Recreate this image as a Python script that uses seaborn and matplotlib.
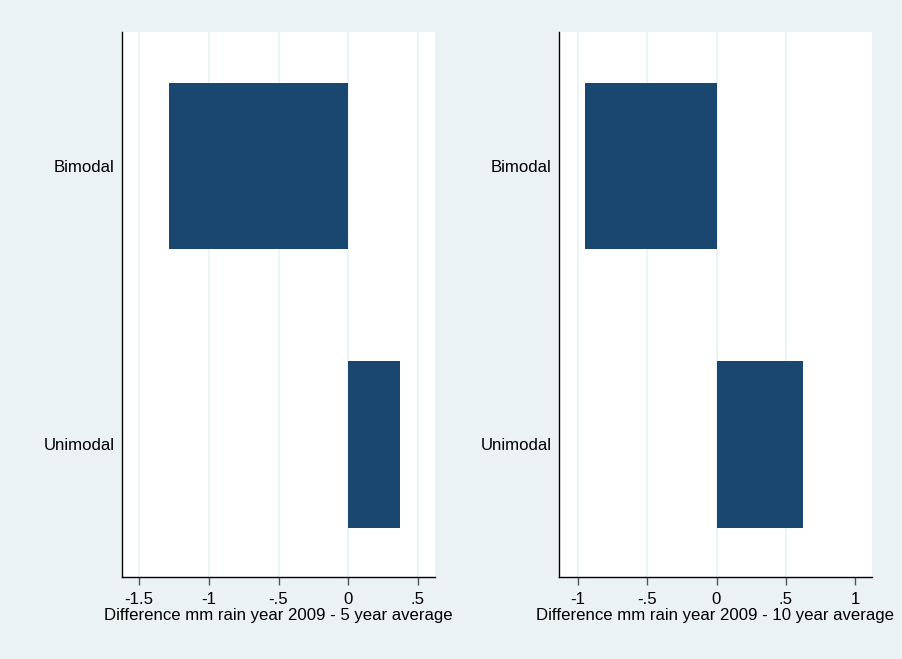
import matplotlib
matplotlib.use("Agg")
import matplotlib.pyplot as plt
import seaborn as sns
import pandas as pd

categories = ["Bimodal", "Unimodal"]
diff_5yr = [-1.288, 0.374]
diff_10yr = [-0.95, 0.626]

ticks_5 = [-1.5, -1.0, -0.5, 0.0, 0.5]
ticklabels_5 = ["-1.5", "-1", "-.5", "0", ".5"]
ticks_10 = [-1.0, -0.5, 0.0, 0.5, 1.0]
ticklabels_10 = ["-1", "-.5", "0", ".5", "1"]

xlabel_5 = "Difference mm rain year 2009 - 5 year average"
xlabel_10 = "Difference mm rain year 2009 - 10 year average"

BG = "#eaf2f3"
BAR = "#1a476f"
FS = 12.1

sns.set_style("white")
plt.rcParams["font.family"] = ["Liberation Sans", "DejaVu Sans"]

fig = plt.figure(figsize=(9.02, 6.59), dpi=100, facecolor=BG)
W, H = 902, 659

def make_ax(left_px, right_px):
    return fig.add_axes([left_px / W, 1 - 577 / H, (right_px - left_px) / W, 545 / H])

ax1 = make_ax(122, 435)
ax2 = make_ax(559, 872)

panels = [
    (ax1, diff_5yr, ticks_5, ticklabels_5, xlabel_5, (-1.622, 0.622), False),
    (ax2, diff_10yr, ticks_10, ticklabels_10, xlabel_10, (-1.137, 1.122), True),
]

for ax, vals, ticks, tlabels, xlabel, xlim, hide_last in panels:
    df = pd.DataFrame({"cat": categories, "val": vals})
    sns.barplot(data=df, x="val", y="cat", color=BAR, width=0.6,
                saturation=1, ax=ax, orient="h", linewidth=0)
    ax.set_facecolor("white")
    ax.set_xlim(*xlim)
    ax.set_ylim(1.478, -0.482)
    ax.set_xticks(ticks)
    ax.set_xticklabels(tlabels, fontsize=FS)
    ax.set_xlabel(xlabel, fontsize=FS, color="black")
    ax.xaxis.set_label_coords(0.5, -0.0575)
    ax.set_ylabel("")
    ax.tick_params(axis="y", length=0, labelsize=FS, pad=5.5, colors="black")
    ax.tick_params(axis="x", length=6, width=1, color="#555555", pad=4.5,
                   labelcolor="black", direction="out", bottom=True)
    for s in ["top", "right"]:
        ax.spines[s].set_visible(False)
    for s in ["left", "bottom"]:
        ax.spines[s].set_color("black")
        ax.spines[s].set_linewidth(1)
    ax.set_axisbelow(True)
    ax.grid(axis="x", color=BG, linewidth=1.2)
    ax.grid(axis="y", visible=False)
    if hide_last:
        ax.xaxis.get_gridlines()[-1].set_visible(False)

fig.savefig("out.png", dpi=100, facecolor=BG)
